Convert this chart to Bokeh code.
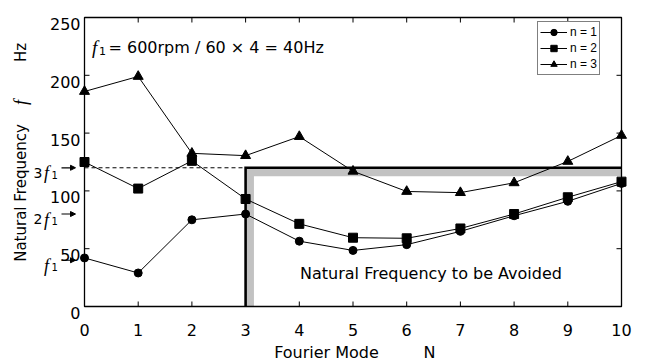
import numpy as np
from bokeh.plotting import figure
from bokeh.models import Range1d, Label, Arrow, NormalHead, Legend, LegendItem
from bokeh.core.properties import value
from bokeh.embed import file_html
from bokeh.resources import INLINE

# ---- data ----
modes = [0, 1, 2, 3, 4, 5, 6, 7, 8, 9, 10]
freq_n1 = [42, 29, 75, 80, 56.5, 48.5, 53.5, 65, 78.5, 91, 106.5]
freq_n2 = [125, 102, 126, 93, 71.5, 59.5, 59, 67.5, 80, 94.5, 108]
freq_n3 = [186, 199, 132.5, 130.5, 147, 117, 99.5, 98.5, 107, 125.5, 148]
series_labels = ["n = 1", "n = 2", "n = 3"]
f1 = 40
harmonics = [1, 2, 3]
harmonic_labels = ["", "2", "3"]
avoid_mode = 3
avoid_freq = 3 * f1
x_ticks = [0, 1, 2, 3, 4, 5, 6, 7, 8, 9, 10]
y_ticks = [0, 50, 100, 150, 200, 250]
x_tick_labels = [str(t) for t in x_ticks]
y_tick_labels = [str(t) for t in y_ticks]

# ---- layout (pixel geometry of the plot box inside the 646x363 canvas) ----
W, H = 646, 363
L, R, T, B = 84, 25, 17, 57
FW, FH = W - L - R, H - T - B
XMIN, XMAX, YMIN, YMAX = 0, 10, 0, 250
kx = FW / (XMAX - XMIN)
ky = FH / (YMAX - YMIN)


def sx(px):
    return XMIN + (px - L) / kx


def sy(py):
    return YMIN + (T + FH - py) / ky


SANS = "DejaVu Sans"
SERIF = "Liberation Serif"

# the frame covers the whole canvas so that texts around the box are never clipped
p = figure(width=W, height=H, output_backend="svg", toolbar_location=None,
           x_range=Range1d(sx(0), sx(W)), y_range=Range1d(sy(H), sy(0)),
           x_axis_location=None, y_axis_location=None, min_border=0)
p.grid.visible = False
p.outline_line_color = None
p.background_fill_color = "white"
p.border_fill_color = "white"

# ---- avoided region ----
band_dx = 4.6 / kx
band_dy = 4.6 / ky
p.line([avoid_mode + band_dx, avoid_mode + band_dx, XMAX],
       [YMIN, avoid_freq - band_dy, avoid_freq - band_dy],
       line_color="#c2c2c2", line_width=7.5, line_join="miter")
p.line([avoid_mode, avoid_mode, XMAX], [YMIN, avoid_freq, avoid_freq],
       line_color="black", line_width=2.6, line_join="miter")
p.line([XMIN, avoid_mode], [avoid_freq, avoid_freq],
       line_color="black", line_width=1, line_dash="4 3")

# ---- plot box, ticks (inward on all four sides) and tick labels ----
TICK = 5
p.quad(left=XMIN, right=XMAX, bottom=YMIN, top=YMAX, fill_color=None,
       line_color="black", line_width=1.3)
p.segment(x0=x_ticks, y0=[YMIN] * len(x_ticks), x1=x_ticks,
          y1=[YMIN + TICK / ky] * len(x_ticks), line_color="black", line_width=1)
p.segment(x0=x_ticks, y0=[YMAX] * len(x_ticks), x1=x_ticks,
          y1=[YMAX - TICK / ky] * len(x_ticks), line_color="black", line_width=1)
p.segment(x0=[XMIN] * len(y_ticks), y0=y_ticks, x1=[XMIN + TICK / kx] * len(y_ticks),
          y1=y_ticks, line_color="black", line_width=1)
p.segment(x0=[XMAX] * len(y_ticks), y0=y_ticks, x1=[XMAX - TICK / kx] * len(y_ticks),
          y1=y_ticks, line_color="black", line_width=1)
p.text(x=x_ticks, y=[YMIN - 23 / ky] * len(x_ticks), text=x_tick_labels,
       text_font=value(SANS), text_font_size="16px", text_align="center",
       text_baseline="alphabetic", text_color="black")
p.text(x=[XMIN - 4 / kx] * len(y_ticks), y=[t - 6.5 / ky for t in y_ticks],
       text=y_tick_labels, text_font=value(SANS), text_font_size="16px",
       text_align="right", text_baseline="alphabetic", text_color="black")

# ---- series ----
items = []
markers = ["circle", "square", "triangle"]
sizes = [8, 9, 10]
for vals, lab_, mk, sz in zip([freq_n1, freq_n2, freq_n3], series_labels, markers, sizes):
    lr = p.line(modes, vals, line_color="black", line_width=1)
    sr = p.scatter(modes, vals, marker=mk, size=sz, fill_color="black", line_color="black")
    items.append(LegendItem(label=lab_, renderers=[lr, sr]))

legend = Legend(items=items, location=(537, H - 75))
legend.label_text_font = "Liberation Sans"
legend.label_text_font_size = "12px"
legend.label_text_color = "black"
legend.label_height = 16
legend.glyph_height = 16
legend.glyph_width = 27
legend.label_standoff = 3
legend.spacing = 0
legend.padding = 2
legend.margin = 0
legend.border_line_color = "black"
legend.border_line_width = 1.2
legend.background_fill_alpha = 1
p.add_layout(legend)


# ---- annotation texts ----
def lab(text, px, py, size="16px", font=SANS, style="normal", align="left",
        baseline="alphabetic", angle=0):
    p.add_layout(Label(x=sx(px), y=sy(py), text=text, text_font=font,
                       text_font_size=size, text_font_style=style,
                       text_align=align, text_baseline=baseline, angle=angle,
                       text_color="black"))


# formula
lab("f", 91.5, 47, size="19px", font=SERIF, style="italic")
lab("1", 98.5, 50, size="11px")
lab("= 600rpm / 60 \u00d7 4 = 40Hz", 108, 47)

# region label
lab("Natural Frequency to be Avoided", 430.5, 273, align="center", baseline="middle")

# harmonic markers on the left
for k, coef in zip(harmonics, harmonic_labels):
    yk = k * f1
    py = T + FH - (yk - YMIN) * ky
    if coef:
        lab(coef, 42, py + 5, size="14px", align="right")
    lab("f", 43.5, py + 5.5, size="18px", font=SERIF, style="italic")
    lab("1", 51, py + 7, size="10px")
    p.add_layout(Arrow(x_start=sx(61), y_start=yk, x_end=sx(75), y_end=yk,
                       line_color="black", line_width=1.2,
                       end=NormalHead(size=5, fill_color="black", line_color="black",
                                      line_width=1)))

# axis titles
lab("Fourier Mode", 326, 352, align="center", baseline="middle")
lab("N", 429, 352, align="center", baseline="middle")
lab("Natural Frequency", 20, 192.5, size="15px", align="center", baseline="middle",
    angle=np.pi / 2)
lab("f", 20, 102, size="18px", font=SERIF, style="italic", align="center",
    baseline="middle", angle=np.pi / 2)
lab("Hz", 20, 52, size="15px", align="center", baseline="middle", angle=np.pi / 2)

open("out.html", "w").write(file_html(p, INLINE))
